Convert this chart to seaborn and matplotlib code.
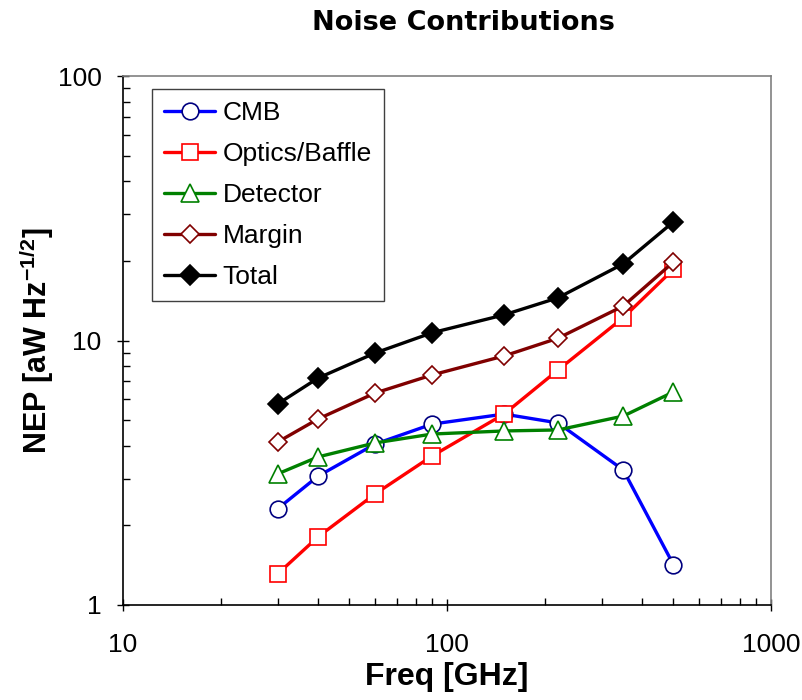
import matplotlib
matplotlib.use("Agg")
import matplotlib.pyplot as plt
import seaborn as sns
import pandas as pd
from matplotlib.ticker import LogLocator, NullFormatter, FixedLocator, FixedFormatter

freq = [30, 40, 60, 90, 150, 220, 350, 500]
cmb = [2.31, 3.07, 4.06, 4.83, 5.27, 4.88, 3.24, 1.42]
optics = [1.31, 1.81, 2.63, 3.66, 5.27, 7.73, 12.2, 18.6]
detector = [3.13, 3.63, 4.10, 4.43, 4.55, 4.59, 5.18, 6.39]
margin = [4.13, 5.05, 6.33, 7.41, 8.74, 10.2, 13.5, 19.8]
total = [5.75, 7.21, 8.97, 10.7, 12.5, 14.5, 19.5, 28.1]

series_names = ["CMB", "Optics/Baffle", "Detector", "Margin", "Total"]
series_vals = [cmb, optics, detector, margin, total]
line_colors = ["#0000FF", "#FF0000", "#008000", "#800000", "#000000"]
edge_colors = ["#000080", "#FF0000", "#008000", "#800000", "#000000"]
face_colors = ["white", "white", "white", "white", "black"]
markers = ["o", "s", "^", "D", "D"]
msizes = [12, 12, 13, 9.5, 10]

sns.set_style("ticks")
plt.rcParams["font.family"] = ["Liberation Sans", "DejaVu Sans"]
plt.rcParams["mathtext.fontset"] = "custom"
plt.rcParams["mathtext.rm"] = "Liberation Sans"
plt.rcParams["mathtext.bf"] = "Liberation Sans:bold"
for key in ["text.color", "axes.labelcolor", "xtick.color", "ytick.color"]:
    plt.rcParams[key] = "black"

fig = plt.figure(figsize=(8.02, 7.0), dpi=100)
ax = fig.add_axes([123 / 802, 95 / 700, 648 / 802, 529 / 700])

for name, vals, lc, ec, fc, m, ms in zip(series_names, series_vals, line_colors,
                                         edge_colors, face_colors, markers, msizes):
    df = pd.DataFrame({"Freq": freq, "NEP": vals})
    sns.lineplot(data=df, x="Freq", y="NEP", ax=ax, color=lc, linewidth=2.4,
                 marker=m, markersize=ms, markerfacecolor=fc, markeredgecolor=ec,
                 markeredgewidth=1.2, label=name, sort=False)

ax.set_xscale("log")
ax.set_yscale("log")
ax.set_xlim(10, 1000)
ax.set_ylim(1, 100)

ax.xaxis.set_major_locator(FixedLocator([10, 100, 1000]))
ax.xaxis.set_major_formatter(FixedFormatter(["10", "100", "1000"]))
ax.yaxis.set_major_locator(FixedLocator([1, 10, 100]))
ax.yaxis.set_major_formatter(FixedFormatter(["1", "10", "100"]))
ax.xaxis.set_minor_locator(LogLocator(base=10, subs=range(2, 10)))
ax.yaxis.set_minor_locator(LogLocator(base=10, subs=range(2, 10)))
ax.xaxis.set_minor_formatter(NullFormatter())
ax.yaxis.set_minor_formatter(NullFormatter())

ax.tick_params(axis="both", which="major", direction="inout", length=9, width=1.0,
               labelsize=19, colors="black")
ax.tick_params(axis="both", which="minor", direction="in", length=5, width=1.0,
               colors="black")
ax.tick_params(axis="y", which="major", pad=11)
ax.tick_params(axis="x", which="major", pad=16)
ax.tick_params(top=False, right=False, which="both")

for side in ["top", "right"]:
    ax.spines[side].set_visible(True)
    ax.spines[side].set_color("#808080")
    ax.spines[side].set_linewidth(1.2)
for side in ["left", "bottom"]:
    ax.spines[side].set_color("black")
    ax.spines[side].set_linewidth(1.2)

ax.set_xlabel("Freq [GHz]", fontsize=23, fontweight="bold", labelpad=3)
ax.set_ylabel(r"NEP [aW Hz$^{\mathbf{-1/2}}$]", fontsize=22, fontweight="bold", labelpad=1)
ax.set_title("Noise Contributions", fontsize=19.5, fontweight="bold",
             family=["DejaVu Sans"], x=(463 - 123) / 648, pad=33)

leg = ax.legend(loc="upper left", bbox_to_anchor=((152 - 123) / 648, (605 - 89) / 529),
                fontsize=19, frameon=True, fancybox=False, edgecolor="#404040",
                framealpha=1, handlelength=1.95, handletextpad=0.28, labelspacing=0.65,
                borderpad=0.45, borderaxespad=0.0)
leg.get_frame().set_linewidth(1.0)

fig.savefig("out.png", dpi=100)
